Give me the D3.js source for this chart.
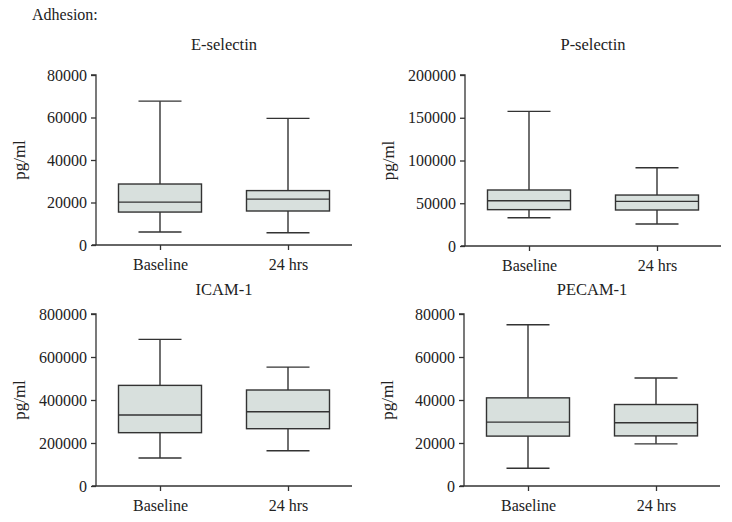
<!DOCTYPE html>
<html>
<head>
<meta charset="utf-8">
<script src="https://cdn.jsdelivr.net/npm/d3@7"></script>
<style>
  body { margin: 0; background: #fff; }
  svg text { font-family: "Liberation Serif", "Times New Roman", serif; fill: #222; }
</style>
</head>
<body>
<div id="chart"></div>
<script>
// Box plot data (pg/ml)
const categories = ['Baseline', '24 hrs'];
const panelTitles = ['E-selectin', 'P-selectin', 'ICAM-1', 'PECAM-1'];
const yMaxima = [80000, 200000, 800000, 80000];
const yTicks = [
  [0, 20000, 40000, 60000, 80000],
  [0, 50000, 100000, 150000, 200000],
  [0, 200000, 400000, 600000, 800000],
  [0, 20000, 40000, 60000, 80000]
];
// [min, q1, median, q3, max] for Baseline and 24 hrs
const eSelectin = [[6100, 15500, 20200, 28700, 67700], [5800, 16000, 21600, 25600, 59600]];
const pSelectin = [[33100, 42500, 53000, 65500, 157500], [25700, 42100, 52200, 59600, 91600]];
const icam1 = [[130000, 248000, 330000, 468000, 682000], [164000, 266500, 345600, 446500, 553000]];
const pecam1 = [[8250, 23200, 29700, 41000, 75000], [19600, 23300, 29400, 37900, 50200]];
const panelData = [eSelectin, pSelectin, icam1, pecam1];

const width = 732, height = 522;
const svg = d3.select('#chart').append('svg')
  .attr('width', width)
  .attr('height', height);

svg.append('text')
  .attr('x', 32).attr('y', 20)
  .style('font-size', '16px')
  .text('Adhesion:');

// Plot frames: left, right, top, bottom, title baseline
const frames = [
  { x0: 96, x1: 352, y0: 75, y1: 245, ty: 50 },
  { x0: 465, x1: 721, y0: 75, y1: 246, ty: 50 },
  { x0: 96, x1: 352, y0: 314, y1: 486, ty: 295 },
  { x0: 464, x1: 720, y0: 314, y1: 486, ty: 295 }
];

const axisColor = '#333';
const boxFill = '#d8e0dd';
const serif = '"Liberation Serif", "Times New Roman", serif';

frames.forEach((f, i) => {
  const g = svg.append('g');
  const x = d3.scalePoint().domain(categories).range([f.x0, f.x1]).padding(0.5);
  const y = d3.scaleLinear().domain([0, yMaxima[i]]).range([f.y1, f.y0]);
  const boxW = 83, capW = 43;

  // title
  g.append('text')
    .attr('x', (f.x0 + f.x1) / 2)
    .attr('y', f.ty)
    .attr('text-anchor', 'middle')
    .style('font-size', '16.5px')
    .text(panelTitles[i]);

  // y label
  g.append('text')
    .attr('transform', `translate(${f.x0 - 71},${(f.y0 + f.y1) / 2}) rotate(-90)`)
    .attr('text-anchor', 'middle')
    .style('font-size', '17px')
    .text('pg/ml');

  // axes
  const yAxis = g.append('g')
    .attr('transform', `translate(${f.x0},0)`)
    .call(d3.axisLeft(y).tickValues(yTicks[i]).tickFormat(d3.format('d')).tickSize(5).tickPadding(4));
  const xAxis = g.append('g')
    .attr('transform', `translate(0,${f.y1})`)
    .call(d3.axisBottom(x).tickSize(5).tickPadding(9));
  [yAxis, xAxis].forEach(a => {
    a.select('.domain').attr('stroke', axisColor).attr('stroke-width', 1.3);
    a.selectAll('.tick line').attr('stroke', axisColor).attr('stroke-width', 1.3);
    a.selectAll('.tick text').style('font-size', '16px').attr('fill', '#222')
      .style('font-family', serif);
  });
  yAxis.select('.domain').attr('d', `M-5,${f.y0}H0V${f.y1}`);
  xAxis.select('.domain').attr('d', `M${f.x0 - 4},0H${f.x1}`);

  // boxes
  const boxes = g.selectAll('.box').data(panelData[i]).enter().append('g');
  boxes.each(function (d, j) {
    const cx = x(categories[j]);
    const b = d3.select(this);
    const line = (x1, y1, x2, y2) => b.append('line')
      .attr('x1', x1).attr('y1', y1).attr('x2', x2).attr('y2', y2)
      .attr('stroke', axisColor).attr('stroke-width', 1.4);
    line(cx, y(d[0]), cx, y(d[1]));
    line(cx, y(d[3]), cx, y(d[4]));
    line(cx - capW / 2, y(d[0]), cx + capW / 2, y(d[0]));
    line(cx - capW / 2, y(d[4]), cx + capW / 2, y(d[4]));
    b.append('rect')
      .attr('x', cx - boxW / 2).attr('y', y(d[3]))
      .attr('width', boxW).attr('height', y(d[1]) - y(d[3]))
      .attr('fill', boxFill).attr('stroke', axisColor).attr('stroke-width', 1.4);
    line(cx - boxW / 2, y(d[2]), cx + boxW / 2, y(d[2]));
  });
});
</script>
</body>
</html>
